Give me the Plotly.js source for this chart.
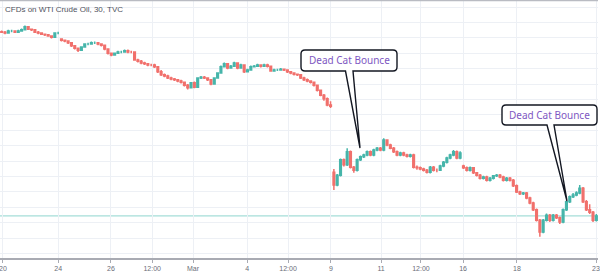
<!DOCTYPE html>
<html>
<head>
<meta charset="utf-8">
<script src="https://cdn.plot.ly/plotly-3.0.1.min.js"></script>
<style>html,body{margin:0;padding:0;background:#fff;}#chart{width:600px;height:275px;}</style>
</head>
<body>
<div id="chart"></div>
<script>
// ---- Data (30-min CFD on WTI Crude Oil, resampled reading; one candle per bar index) ----
const chartTitle = "CFDs on WTI Crude Oil, 30, TVC";

const openP = [
53.5,53.4,53.3,53.6,53.6,53.4,53.6,53.8,54.3,53.9,
53.8,53.4,53.3,53.1,53.0,52.8,52.6,53.3,52.3,52.1,
52.0,51.7,51.2,50.8,50.5,51.0,51.5,51.5,51.7,51.7,
51.5,51.3,50.7,50.0,49.7,50.0,50.2,50.2,50.4,50.2,
50.2,48.9,48.7,48.4,48.3,48.1,48.1,47.8,47.0,46.5,
46.3,46.0,45.8,45.7,45.5,45.3,44.8,44.4,45.2,44.5,
46.0,46.1,46.0,45.7,45.0,46.0,46.8,47.8,48.3,47.6,
47.9,48.4,47.6,48.1,47.0,47.3,47.8,47.9,48.1,47.9,
48.1,47.9,47.1,47.3,47.3,47.4,47.3,47.0,46.8,46.6,
46.5,46.0,45.7,45.5,45.3,44.8,44.0,43.2,42.6,41.6,
30.7,28.6,30.2,32.7,31.9,34.0,31.5,31.0,32.7,33.2,
33.5,34.0,33.5,34.3,34.6,34.3,35.9,35.1,34.6,34.0,
33.5,33.8,33.5,33.3,33.5,31.5,31.4,31.2,31.0,30.7,
31.5,31.0,31.0,31.7,32.3,33.0,33.5,34.0,33.0,31.7,
31.4,31.0,31.4,30.6,30.2,29.7,29.9,29.4,29.7,30.1,
30.2,29.9,29.4,29.7,29.4,28.5,27.5,27.2,27.3,26.5,
25.7,24.6,22.9,21.0,22.9,23.7,22.9,23.7,23.3,22.6,
24.6,25.9,26.7,27.0,27.3,28.1,25.9,24.6,24.2,22.9
];
const highP = [
53.7,53.6,53.8,53.8,53.7,53.8,54.0,54.5,54.4,54.0,
53.9,53.6,53.4,53.2,53.1,52.9,53.4,53.5,52.4,52.2,
52.1,51.8,51.3,50.9,51.1,51.6,51.7,51.9,51.9,51.8,
51.6,51.4,50.8,50.1,50.1,50.4,50.4,50.6,50.6,50.4,
50.3,49.1,48.9,48.6,48.4,48.3,48.3,47.9,47.3,46.7,
46.5,46.2,46.0,45.8,45.7,45.4,45.0,45.3,45.4,46.1,
46.3,46.3,46.1,45.8,46.1,46.9,48.0,48.5,48.4,48.1,
48.6,48.5,48.3,48.2,47.5,48.0,48.1,48.3,48.2,48.3,
48.3,48.0,47.5,47.5,47.6,47.5,47.4,47.1,46.9,46.7,
46.6,46.2,45.9,45.6,45.4,44.9,44.1,43.4,42.8,42.2,
31.2,30.4,32.9,32.9,34.6,34.2,31.7,32.9,33.4,33.7,
34.2,34.2,34.5,34.8,34.8,36.2,36.0,35.3,34.8,34.2,
34.0,34.0,33.7,33.7,33.7,31.8,31.6,31.4,31.2,31.7,
31.7,31.3,31.9,32.5,33.2,33.7,34.3,34.2,34.1,31.9,
31.6,31.6,31.5,30.7,30.4,30.1,30.1,29.9,30.2,30.4,
30.4,30.1,29.9,29.9,29.6,28.7,27.7,27.5,27.5,26.7,
25.9,24.8,23.1,23.1,24.0,23.9,23.9,23.9,23.5,24.8,
26.1,26.9,27.3,27.6,28.6,28.3,26.2,25.5,24.4,23.9
];
const lowP = [
53.3,53.1,53.2,53.4,53.3,53.3,53.5,53.7,53.8,53.6,
53.3,53.1,53.0,52.8,52.7,52.4,52.5,53.1,51.9,51.8,
51.5,51.0,50.6,50.2,50.4,50.9,51.3,51.4,51.5,51.3,
51.1,50.5,49.8,49.5,49.6,49.9,50.0,50.1,50.0,50.0,
48.8,48.5,48.2,48.1,47.9,47.9,47.6,46.8,46.3,46.1,
45.8,45.6,45.5,45.3,45.1,44.6,44.1,44.3,44.3,44.4,
45.8,45.8,45.5,44.8,44.9,45.9,46.7,47.7,47.4,47.5,
47.8,47.4,47.5,46.8,46.9,47.2,47.7,47.8,47.7,47.8,
47.7,47.0,47.0,47.1,47.2,47.1,46.8,46.6,46.4,46.3,
45.8,45.5,45.3,45.1,44.6,43.8,43.0,42.3,41.4,41.1,
27.8,28.4,30.0,31.6,31.7,31.3,30.6,30.8,32.5,33.0,
33.3,33.3,33.3,34.1,34.1,34.1,34.9,34.4,33.8,33.3,
33.3,33.3,33.1,33.1,31.3,31.1,31.0,30.8,30.5,30.5,
30.8,30.7,30.9,31.5,32.1,32.8,33.3,32.8,32.8,31.2,
30.8,30.8,30.4,30.0,29.5,29.5,29.2,29.2,29.5,29.9,
29.7,29.2,29.2,29.2,28.3,27.3,27.0,27.0,26.3,25.5,
24.4,22.7,20.2,20.8,22.7,22.6,22.7,23.1,22.3,22.4,
24.4,25.7,26.5,26.8,27.1,25.7,24.4,23.9,22.6,22.7
];
const closeP = [
53.4,53.3,53.6,53.6,53.4,53.6,53.8,54.3,53.9,53.8,
53.4,53.3,53.1,53.0,52.8,52.6,53.3,53.3,52.1,52.0,
51.7,51.2,50.8,50.5,51.0,51.5,51.5,51.7,51.7,51.5,
51.3,50.7,50.0,49.7,50.0,50.2,50.2,50.4,50.2,50.2,
48.9,48.7,48.4,48.3,48.1,48.1,47.8,47.0,46.5,46.3,
46.0,45.8,45.7,45.5,45.3,44.8,44.4,45.2,44.5,46.0,
46.1,46.0,45.7,45.0,46.0,46.8,47.8,48.3,47.6,47.9,
48.4,47.6,48.1,47.0,47.3,47.8,47.9,48.1,47.9,48.1,
47.9,47.1,47.3,47.3,47.4,47.3,47.0,46.8,46.6,46.5,
46.0,45.7,45.5,45.3,44.8,44.0,43.2,42.6,41.6,41.4,
28.6,30.2,32.7,31.9,34.0,31.5,31.0,32.7,33.2,33.5,
34.0,33.5,34.3,34.6,34.3,35.9,35.1,34.6,34.0,33.5,
33.8,33.5,33.3,33.5,31.5,31.4,31.2,31.0,30.7,31.5,
31.0,31.0,31.7,32.3,33.0,33.5,34.0,33.0,33.8,31.4,
31.0,31.4,30.6,30.2,29.7,29.9,29.4,29.7,30.1,30.2,
29.9,29.4,29.7,29.4,28.5,27.5,27.2,27.3,26.5,25.7,
24.6,22.9,21.0,22.9,23.7,22.9,23.7,23.3,22.6,24.6,
25.9,26.7,27.0,27.3,28.1,25.9,24.6,24.2,22.9,23.6
];

// tick labels positioned in bar-index units
const tickVals  = [0.4, 17.0, 32.9, 45.3, 57.6, 73.9, 86.2, 99.1, 114.2, 126.2, 138.9, 155.1, 178.9];
const tickTexts = ["20","24","26","12:00","Mar","4","12:00","9","11","12:00","16","18","23"];

const calloutLabel = "Dead Cat Bounce";

// ---- Build ----
const barIndex = closeP.map((_, i) => i);
const lastClose = closeP[closeP.length - 1];

const PW = 598, PH = 258;
function P(x, y) { return (x / PW).toFixed(5) + "," + (1 - y / PH).toFixed(5); }
function calloutPath(x0, y0, x1, y1, r, ta, tb, tx, ty) {
  return "M" + P(x0 + r, y0) + " L" + P(x1 - r, y0) + " Q" + P(x1, y0) + " " + P(x1, y0 + r) +
    " L" + P(x1, y1 - r) + " Q" + P(x1, y1) + " " + P(x1 - r, y1) +
    " L" + P(tb, y1) + " L" + P(tx, ty) + " L" + P(ta, y1) +
    " L" + P(x0 + r, y1) + " Q" + P(x0, y1) + " " + P(x0, y1 - r) +
    " L" + P(x0, y0 + r) + " Q" + P(x0, y0) + " " + P(x0 + r, y0) + " Z";
}

const trace = {
  type: "candlestick",
  x: barIndex,
  open: openP, high: highP, low: lowP, close: closeP,
  increasing: { line: { color: "#46b5aa", width: 1.5 }, fillcolor: "#46b5aa" },
  decreasing: { line: { color: "#f1706c", width: 1.5 }, fillcolor: "#f1706c" },
  whiskerwidth: 0,
  hoverinfo: "skip"
};

const grid = "#edf0f5";
const layout = {
  width: 600, height: 275,
  margin: { l: 0, r: 2, t: 0, b: 17, pad: 0 },
  paper_bgcolor: "#ffffff", plot_bgcolor: "#ffffff",
  showlegend: false,
  xaxis: {
    range: [-0.5, 179.5],
    rangeslider: { visible: false },
    tickmode: "array", tickvals: tickVals, ticktext: tickTexts,
    ticklabeloverflow: "allow",
    showgrid: true, gridcolor: grid, gridwidth: 1,
    zeroline: false,
    showline: true, linecolor: "#a9abb3", linewidth: 1.5,
    ticks: "outside", ticklen: 3, tickcolor: "#a9abb3", tickwidth: 1,
    tickfont: { family: "Liberation Sans, Arial, sans-serif", size: 7, color: "#6a6d78" },
    fixedrange: true
  },
  yaxis: {
    range: [16.77, 58.64],
    tick0: 0, dtick: 2.5,
    showgrid: true, gridcolor: grid, gridwidth: 1,
    showticklabels: false, zeroline: false, showline: false, ticks: "",
    fixedrange: true
  },
  shapes: [
    { type: "line", xref: "paper", yref: "y", x0: 0, x1: 1, y0: lastClose, y1: lastClose,
      line: { color: "#8ed5ce", width: 1 }, layer: "below" },
    { type: "line", xref: "paper", yref: "paper", x0: 0, x1: 1, y0: 1 - 0.6 / PH, y1: 1 - 0.6 / PH,
      line: { color: "#b9bbc2", width: 1.5 } },
    { type: "path", xref: "paper", yref: "paper",
      path: calloutPath(301, 50, 397, 71, 4, 345.5, 353, 360, 148),
      fillcolor: "#ffffff", line: { color: "#131722", width: 1.4 } },
    { type: "path", xref: "paper", yref: "paper",
      path: calloutPath(502, 105, 597, 125, 4, 547, 554, 567, 201),
      fillcolor: "#ffffff", line: { color: "#131722", width: 1.4 } }
  ],
  annotations: [
    { text: chartTitle, xref: "paper", yref: "paper", x: 3 / PW, y: 1 - 9.5 / PH,
      xanchor: "left", yanchor: "middle", showarrow: false,
      font: { family: "Liberation Sans, Arial, sans-serif", size: 8, color: "#50535e" } },
    { text: calloutLabel, xref: "paper", yref: "paper", x: 349 / PW, y: 1 - 60.5 / PH,
      xanchor: "center", yanchor: "middle", showarrow: false,
      font: { family: "Noto Sans, sans-serif", size: 10, color: "#7e57c2" } },
    { text: calloutLabel, xref: "paper", yref: "paper", x: 549.5 / PW, y: 1 - 115 / PH,
      xanchor: "center", yanchor: "middle", showarrow: false,
      font: { family: "Noto Sans, sans-serif", size: 10, color: "#7e57c2" } }
  ]
};

Plotly.newPlot("chart", [trace], layout, { staticPlot: true, displayModeBar: false });
</script>
</body>
</html>
